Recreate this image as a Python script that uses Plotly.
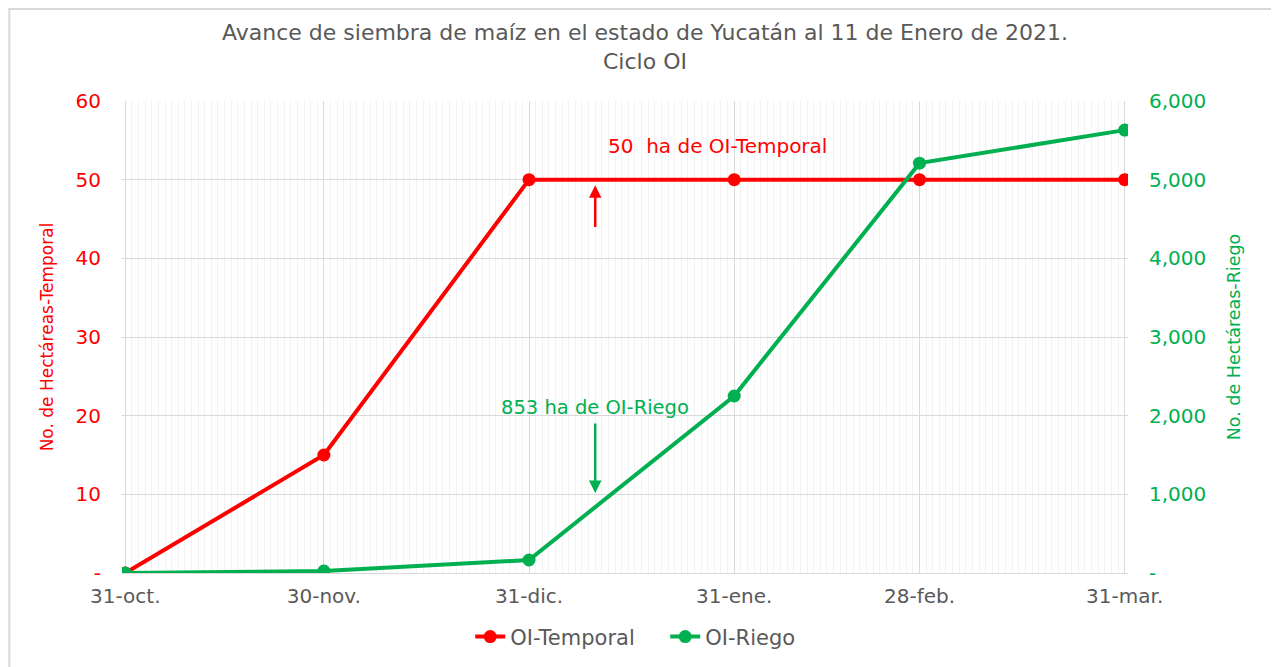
import plotly.graph_objects as go

dates = ["2020-10-31", "2020-11-30", "2020-12-31", "2021-01-31", "2021-02-28", "2021-03-31"]
tick_labels = ["31-oct.", "30-nov.", "31-dic.", "31-ene.", "28-feb.", "31-mar."]
temporal = [0, 15, 50, 50, 50, 50]
riego = [0, 25, 165, 2250, 5210, 5630]

left_vals = [0, 10, 20, 30, 40, 50, 60]
left_text = ["-", "10", "20", "30", "40", "50", "60"]
right_vals = [0, 1000, 2000, 3000, 4000, 5000, 6000]
right_text = ["-", "1,000", "2,000", "3,000", "4,000", "5,000", "6,000"]

RED = "#FF0000"
GREEN = "#00B050"
GRAY = "#595959"
FONT = "DejaVu Sans"

fig = go.Figure()
fig.add_trace(go.Scatter(x=dates, y=temporal, name="OI-Temporal", mode="lines+markers",
                         line=dict(color=RED, width=4), marker=dict(color=RED, size=13), yaxis="y"))
fig.add_trace(go.Scatter(x=dates, y=riego, name="OI-Riego", mode="lines+markers",
                         line=dict(color=GREEN, width=4), marker=dict(color=GREEN, size=13), yaxis="y2"))

fig.update_layout(
    width=1271, height=659,
    paper_bgcolor="white", plot_bgcolor="white",
    margin=dict(l=114, r=151, t=93, b=94, autoexpand=False),
    font=dict(family=FONT, color=GRAY),
    xaxis=dict(type="date", range=["2020-10-30 12:00", "2021-03-31 12:00"], automargin=False,
               tickmode="array", tickvals=dates, ticktext=tick_labels,
               tickfont=dict(size=20, color=GRAY), ticklabelstandoff=5,
               showgrid=True, gridcolor="#D9D9D9", gridwidth=1,
               showline=True, linecolor="#D9D9D9", zeroline=False,
               minor=dict(showgrid=True, gridcolor="#F2F2F2", tick0="2020-10-31", dtick=86400000)),
    yaxis=dict(range=[0, 60], tickmode="array", tickvals=left_vals, ticktext=left_text, automargin=False,
               tickfont=dict(size=20, color=RED), ticklabelstandoff=20,
               showgrid=True, gridcolor="#D9D9D9", zeroline=False,
               title=dict(text="No. de Hectáreas-Temporal", font=dict(size=17, color=RED), standoff=17)),
    yaxis2=dict(range=[0, 6000], overlaying="y", side="right", tickmode="array", automargin=False,
                tickvals=right_vals, ticktext=right_text,
                tickfont=dict(size=20, color=GREEN), ticklabelstandoff=20,
                showgrid=False, zeroline=False,
                title=dict(text="No. de Hectáreas-Riego", font=dict(size=17.5, color=GREEN), standoff=22)),
    legend=dict(orientation="h", x=0.54, xanchor="center", y=-0.092, yanchor="top",
                entrywidth=150, font=dict(size=21, color=GRAY)),
    showlegend=True,
)

# title
fig.add_annotation(x=0.52, y=1.115, xref="paper", yref="paper", xanchor="center", yanchor="middle",
                   text="Avance de siembra de maíz en el estado de Yucatán al 11 de Enero de 2021.<br>Ciclo OI",
                   showarrow=False, font=dict(size=22, color=GRAY, family=FONT))

# chart border
fig.add_shape(type="rect", xref="paper", yref="paper", x0=-0.112, x1=1.144, y0=-0.3, y1=1.195,
              line=dict(color="#D9D9D9", width=2), fillcolor="rgba(0,0,0,0)", layer="below")

# arrows
fig.add_annotation(x="2021-01-10", y=49.3, ax="2021-01-10", ay=43.8, xref="x", yref="y",
                   axref="x", ayref="y", text="", showarrow=True, arrowhead=2, arrowsize=1,
                   arrowwidth=2.5, arrowcolor=RED)
fig.add_annotation(x="2021-01-10", y=1016, ax="2021-01-10", ay=1918, xref="x", yref="y2",
                   axref="x", ayref="y2", text="", showarrow=True, arrowhead=2, arrowsize=1,
                   arrowwidth=2.5, arrowcolor=GREEN)
fig.add_annotation(x="2021-01-28 12:00", y=54.3, xref="x", yref="y", text="50  ha de OI-Temporal",
                   showarrow=False, font=dict(size=20, color=RED, family=FONT))
fig.add_annotation(x="2021-01-10", y=2100, xref="x", yref="y2", text="853 ha de OI-Riego",
                   showarrow=False, font=dict(size=19.5, color=GREEN, family=FONT))

fig.write_html("out.html")
